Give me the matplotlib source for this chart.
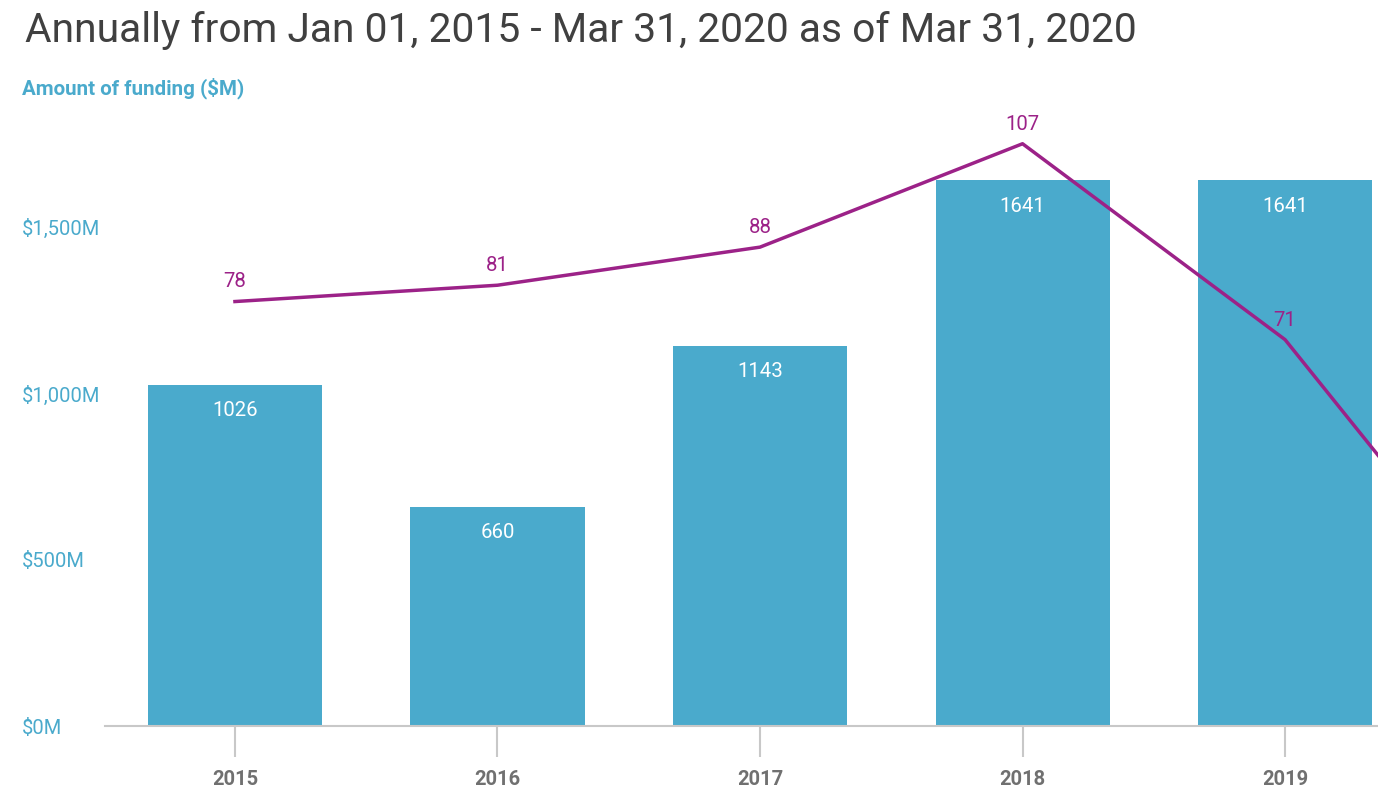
import numpy as np
import matplotlib.pyplot as plt

# --- data ---
years = ["2015", "2016", "2017", "2018", "2019", "2020"]
funding = [1026, 660, 1143, 1641, 1641, 60]  # $M (2020 is off the visible area)
deals = [78, 81, 88, 107, 71, 11]
n_visible = 5  # only 2015-2019 are inside the view

BAR_COLOR = "#4aaacc"
LINE_COLOR = "#9c2288"
plt.rcParams["font.family"] = ["Roboto", "DejaVu Sans"]

fig = plt.figure(figsize=(13.78, 8.06), dpi=100)
ax = fig.add_axes([105 / 1378, 1 - 726 / 806, 1273 / 1378, 616 / 806])
ax2 = ax.twinx()

x = np.arange(len(years))
ax.bar(x, funding, width=0.663, color=BAR_COLOR, zorder=2)
for xi, v in zip(x[:n_visible], funding[:n_visible]):
    ax.text(xi, v - 77, str(v), ha="center", va="center", color="white",
            fontsize=14.7, zorder=3)

ax2.plot(x, deals, color=LINE_COLOR, lw=2.5, zorder=4)
for xi, v in zip(x[:n_visible], deals[:n_visible]):
    ax2.text(xi, v + 3.6, str(v), ha="center", va="center", color=LINE_COLOR,
             fontsize=14.7)

ax.set_ylim(0, 1853)
ax2.set_ylim(0, 113.2)

ax.set_yticks([0, 500, 1000, 1500])
ax.set_yticklabels(["$0M", "$500M", "$1,000M", "$1,500M"])
ax.set_xticks(x)
ax.set_xticklabels(years)

for a in (ax, ax2):
    for s in a.spines.values():
        s.set_visible(False)
ax.spines["bottom"].set_visible(True)
ax.spines["bottom"].set_color("#c8c8c8")
ax.spines["bottom"].set_linewidth(1.5)
ax2.set_yticks([])

ax.tick_params(axis="x", length=22, width=1.5, color="#c8c8c8",
               labelsize=14.5, labelcolor="#707070", pad=10)
for lab in ax.get_xticklabels():
    lab.set_fontweight("bold")
ax.tick_params(axis="y", length=0, labelsize=14.5, labelcolor=BAR_COLOR, pad=60)
for lab in ax.get_yticklabels():
    lab.set_horizontalalignment("left")

ax.set_xlim(-0.495, 4.354)
ax2.set_xlim(-0.495, 4.354)

fig.text(25 / 1378, 1 - 30 / 806, "Annually from Jan 01, 2015 - Mar 31, 2020 as of Mar 31, 2020",
         fontsize=29.3, color="#404040", va="center", ha="left")
fig.text(22 / 1378, 1 - 88 / 806, "Amount of funding ($M)", fontsize=14.8,
         fontweight="bold", color=BAR_COLOR, va="center", ha="left")

fig.savefig("out.png", dpi=100)
